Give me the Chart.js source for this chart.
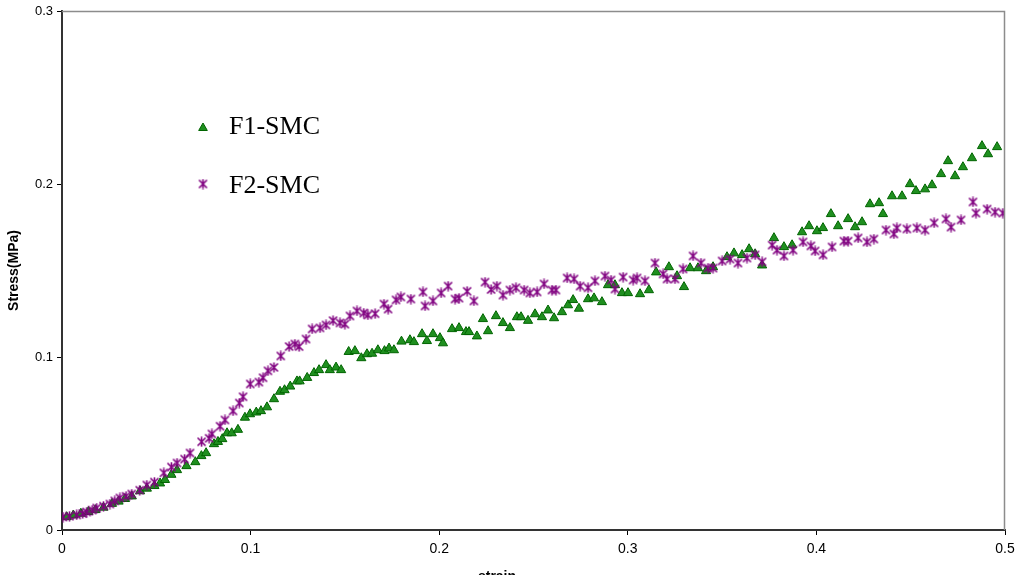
<!DOCTYPE html>
<html>
<head>
<meta charset="utf-8">
<script src="https://cdn.jsdelivr.net/npm/chart.js@4.4.1/dist/chart.umd.min.js"></script>
<style>
  html, body { margin: 0; padding: 0; background: #fff; overflow: hidden; }
  #wrap { width: 1015px; height: 575px; }
</style>
</head>
<body>
<div id="wrap"><canvas id="c" width="1015" height="575"></canvas></div>
<script>
// ---- data ----
const seriesNames = ['F1-SMC', 'F2-SMC'];
const xTickLabels = ['0', '0.1', '0.2', '0.3', '0.4', '0.5'];
const yTickLabels = ['0', '0.1', '0.2', '0.3'];
const xTitle = 'strain';
const yTitle = 'Stress(MPa)';

const f1Strain = [0.0025,0.006,0.010,0.014,0.0177,0.022,0.0265,0.0300,0.0334,0.037,0.0414,0.045,0.049,0.0520,0.0546,0.058,0.061,0.066,0.0707,0.0739,0.0764,0.0806,0.0827,0.085,0.0875,0.090,0.0933,0.097,0.0997,0.103,0.1055,0.1087,0.1124,0.1156,0.118,0.121,0.1246,0.126,0.130,0.1336,0.1363,0.140,0.142,0.1453,0.148,0.152,0.1553,0.1587,0.1617,0.1644,0.1675,0.171,0.1734,0.176,0.180,0.1845,0.1866,0.1909,0.1935,0.1967,0.2004,0.202,0.2068,0.2105,0.2142,0.2158,0.2200,0.2232,0.2259,0.2301,0.2338,0.2375,0.2412,0.2434,0.2471,0.2508,0.2545,0.2577,0.2609,0.2651,0.2683,0.2710,0.2741,0.2789,0.2821,0.2863,0.2895,0.2932,0.2969,0.3001,0.3065,0.3112,0.3150,0.3218,0.3261,0.3298,0.3330,0.3372,0.3415,0.3452,0.3526,0.3563,0.3606,0.3643,0.3675,0.3712,0.3775,0.3828,0.3871,0.3924,0.3961,0.4003,0.4035,0.4077,0.4115,0.4168,0.4205,0.4242,0.4284,0.4332,0.4353,0.4401,0.4454,0.4496,0.4528,0.4576,0.4613,0.4661,0.4698,0.4735,0.4777,0.4825,0.4878,0.4910,0.4958];
const f1Stress = [0.0075,0.0085,0.0095,0.0105,0.0116,0.013,0.0152,0.0165,0.018,0.0195,0.0225,0.024,0.0255,0.027,0.029,0.032,0.0347,0.037,0.0393,0.0428,0.0445,0.0497,0.051,0.0526,0.056,0.056,0.058,0.065,0.067,0.068,0.0688,0.071,0.0757,0.080,0.0809,0.083,0.086,0.086,0.088,0.0908,0.0925,0.0954,0.0925,0.094,0.0925,0.103,0.1035,0.0994,0.1017,0.102,0.104,0.1035,0.105,0.104,0.109,0.1098,0.1087,0.1133,0.1093,0.1133,0.111,0.108,0.1162,0.1168,0.1145,0.1145,0.112,0.122,0.115,0.1237,0.1197,0.1168,0.1231,0.1231,0.121,0.1248,0.1231,0.127,0.1225,0.126,0.130,0.133,0.128,0.1335,0.134,0.1318,0.1416,0.1416,0.137,0.137,0.1364,0.1387,0.149,0.152,0.1468,0.1405,0.1514,0.1514,0.1497,0.152,0.1578,0.160,0.159,0.1624,0.1595,0.153,0.1688,0.1636,0.1647,0.1722,0.1757,0.1728,0.1746,0.1827,0.1757,0.1798,0.1751,0.178,0.1884,0.189,0.1827,0.193,0.193,0.200,0.196,0.197,0.1994,0.2058,0.2133,0.2046,0.2098,0.215,0.222,0.2173,0.2214];

const f2Strain = [0.0005,0.004,0.0078,0.011,0.0131,0.016,0.0184,0.022,0.0254,0.028,0.0307,0.034,0.037,0.0412,0.045,0.049,0.054,0.058,0.061,0.065,0.0679,0.074,0.078,0.0795,0.0838,0.0864,0.0907,0.094,0.096,0.0998,0.1044,0.1066,0.1092,0.1124,0.116,0.1204,0.1235,0.1257,0.1294,0.1326,0.1368,0.1400,0.1437,0.1474,0.150,0.1527,0.1564,0.160,0.1622,0.166,0.1707,0.1729,0.1771,0.1797,0.1850,0.1914,0.1925,0.1967,0.2010,0.2047,0.2084,0.2105,0.2148,0.2184,0.2243,0.2275,0.2306,0.2338,0.2375,0.2407,0.2450,0.2481,0.2519,0.2556,0.2598,0.2619,0.2678,0.2715,0.2747,0.2789,0.2826,0.2879,0.2911,0.2932,0.2975,0.3028,0.3049,0.3091,0.3144,0.3187,0.3208,0.3250,0.3293,0.3346,0.3388,0.3425,0.3452,0.3500,0.3542,0.3584,0.3632,0.3675,0.3712,0.3765,0.3791,0.3828,0.3876,0.3929,0.3971,0.3993,0.4035,0.4083,0.4146,0.4168,0.4221,0.4268,0.4305,0.4369,0.4411,0.4427,0.4480,0.4533,0.4576,0.4624,0.4687,0.4714,0.4767,0.4830,0.4846,0.4905,0.4947,0.4989];
const f2Stress = [0.0075,0.008,0.0087,0.0095,0.0104,0.0115,0.0127,0.0138,0.015,0.0168,0.0185,0.0195,0.0208,0.023,0.026,0.0277,0.033,0.0364,0.0387,0.041,0.0445,0.051,0.053,0.0555,0.060,0.0636,0.0688,0.0734,0.077,0.0844,0.0855,0.088,0.092,0.094,0.1006,0.106,0.1075,0.106,0.1104,0.1162,0.1168,0.1185,0.121,0.1197,0.119,0.1237,0.1266,0.1254,0.1243,0.125,0.1306,0.1277,0.133,0.1347,0.1335,0.1376,0.1295,0.1324,0.137,0.141,0.1335,0.134,0.138,0.1324,0.1433,0.139,0.141,0.1358,0.1387,0.140,0.1387,0.137,0.1376,0.1422,0.1387,0.1387,0.1457,0.1451,0.141,0.140,0.144,0.1468,0.1445,0.1393,0.1462,0.1445,0.1457,0.144,0.1543,0.148,0.1451,0.1451,0.1509,0.1584,0.1543,0.1514,0.1514,0.1555,0.1566,0.1543,0.1572,0.159,0.155,0.1647,0.1618,0.1584,0.1618,0.1665,0.1642,0.1613,0.159,0.1636,0.167,0.167,0.1688,0.1665,0.1682,0.1734,0.1711,0.1746,0.174,0.1746,0.1734,0.1775,0.1798,0.1751,0.1792,0.1896,0.1832,0.1855,0.1838,0.1832];

// ---- styles ----
const greenFill = '#1f8f1f';
const greenEdge = '#006400';
const purple = '#800080';

function makeStar(color) {
  const s = 11, c = document.createElement('canvas');
  c.width = s; c.height = s;
  const g = c.getContext('2d');
  g.strokeStyle = color; g.lineWidth = 1.6; g.lineCap = 'butt';
  g.beginPath();
  g.moveTo(1.5, 1.5); g.lineTo(9.5, 9.5);
  g.moveTo(9.5, 1.5); g.lineTo(1.5, 9.5);
  g.moveTo(5.5, 0.5); g.lineTo(5.5, 10.5);
  g.stroke();
  return c;
}
const starImg = makeStar(purple);

const toPts = (xs, ys) => xs.map((x, i) => ({ x: x, y: ys[i] }));

const framePlugin = {
  id: 'frame',
  afterDatasetsDraw(chart) {
    const { ctx, chartArea: a } = chart;
    ctx.save();
    ctx.strokeStyle = '#8c8c8c';
    ctx.lineWidth = 1.5;
    ctx.beginPath();
    ctx.moveTo(a.left, a.top + 0.5);
    ctx.lineTo(a.right - 0.5, a.top + 0.5);
    ctx.lineTo(a.right - 0.5, a.bottom);
    ctx.stroke();
    ctx.restore();
  }
};

const textPlugin = {
  id: 'customText',
  afterDraw(chart) {
    const { ctx, chartArea: a } = chart;
    const mx = a.left + 141, tx = a.left + 167;
    const rows = [a.top + 117, a.top + 173];
    ctx.save();
    // legend: triangle marker
    const r = 5, y0 = rows[0];
    ctx.beginPath();
    ctx.moveTo(mx, y0 - r);
    ctx.lineTo(mx + r * Math.sin(2 * Math.PI / 3), y0 - r * Math.cos(2 * Math.PI / 3));
    ctx.lineTo(mx + r * Math.sin(4 * Math.PI / 3), y0 - r * Math.cos(4 * Math.PI / 3));
    ctx.closePath();
    ctx.fillStyle = greenFill; ctx.strokeStyle = greenEdge; ctx.lineWidth = 1;
    ctx.fill(); ctx.stroke();
    // legend: star marker
    ctx.drawImage(starImg, mx - 5.5, rows[1] - 5.5);
    ctx.fillStyle = '#000';
    ctx.font = '26px "Liberation Serif", "Times New Roman", serif';
    ctx.textBaseline = 'alphabetic';
    ctx.textAlign = 'left';
    ctx.fillText(seriesNames[0], tx, rows[0] + 6);
    ctx.fillText(seriesNames[1], tx, rows[1] + 9);
    // x-axis title (offset left of centre, as in the original)
    ctx.font = 'bold 14px "Liberation Sans", Arial, sans-serif';
    ctx.textAlign = 'center';
    ctx.fillText(xTitle, a.left + 435, a.bottom + 51);
    ctx.restore();
  }
};

new Chart(document.getElementById('c'), {
  type: 'scatter',
  data: {
    datasets: [
      {
        label: seriesNames[0],
        data: toPts(f1Strain, f1Stress),
        pointStyle: 'triangle',
        pointRadius: 5.3,
        pointHoverRadius: 5.3,
        backgroundColor: greenFill,
        borderColor: greenEdge,
        borderWidth: 1,
        order: 1
      },
      {
        label: seriesNames[1],
        data: toPts(f2Strain, f2Stress),
        pointStyle: starImg,
        pointRadius: 5,
        backgroundColor: purple,
        borderColor: purple,
        order: 0
      }
    ]
  },
  options: {
    responsive: false,
    animation: false,
    events: [],
    layout: { padding: { top: 11, right: 10, left: 0, bottom: 0 }, autoPadding: false },
    plugins: { legend: { display: false }, tooltip: { enabled: false } },
    scales: {
      x: {
        type: 'linear',
        min: 0, max: 0.5,
        afterFit: s => { s.height = 45; s.paddingLeft = 0; s.paddingRight = 0; },
        border: { display: true, color: '#333', width: 2 },
        grid: { drawOnChartArea: false, drawTicks: true, tickLength: 5, tickColor: '#000', tickWidth: 1 },
        ticks: {
          stepSize: 0.1,
          padding: 6,
          color: '#000',
          font: { family: '"Liberation Sans", Arial, sans-serif', size: 14 },
          callback: (v, i) => xTickLabels[i]
        },
        title: { display: false }
      },
      y: {
        type: 'linear',
        min: 0, max: 0.3,
        afterFit: s => { s.width = 62; s.paddingTop = 0; s.paddingBottom = 0; },
        border: { display: true, color: '#333', width: 2 },
        grid: { drawOnChartArea: false, drawTicks: true, tickLength: 5, tickColor: '#000', tickWidth: 1 },
        ticks: {
          stepSize: 0.1,
          padding: 4,
          color: '#000',
          font: { family: '"Liberation Sans", Arial, sans-serif', size: 13 },
          callback: (v, i) => yTickLabels[i]
        },
        title: {
          display: true,
          text: yTitle,
          color: '#000',
          font: { family: '"Liberation Sans", Arial, sans-serif', size: 14, weight: 'bold' },
          padding: { top: 6, bottom: 0 }
        }
      }
    }
  },
  plugins: [framePlugin, textPlugin]
});
</script>
</body>
</html>
